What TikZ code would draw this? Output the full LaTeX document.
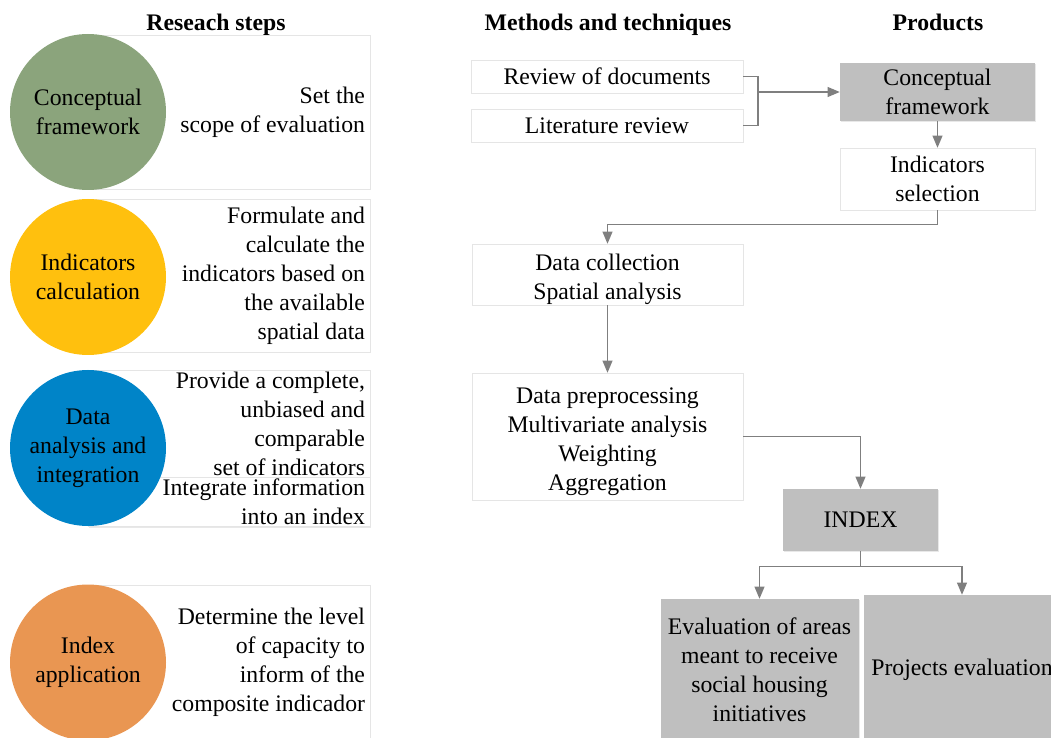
\documentclass[tikz,border=0pt]{standalone}
\usepackage{fontspec}
\setmainfont{Liberation Serif}
\usetikzlibrary{arrows,shadows}
\definecolor{stepgreen}{RGB}{139,164,124}
\definecolor{stepyellow}{RGB}{255,192,14}
\definecolor{stepblue}{RGB}{0,132,200}
\definecolor{steporange}{RGB}{233,150,82}
\definecolor{prodgray}{RGB}{191,191,191}
\definecolor{linkgray}{RGB}{127,127,127}
\newcommand\toppad[1]{\rule{0pt}{\dimexpr12.5pt+#1\relax}}

\begin{document}
\begin{tikzpicture}[x=0.75pt,y=-0.75pt,
  every node/.style={font=\fontsize{17.8}{21.75}\selectfont},
  softshadow/.style={drop shadow={shadow xshift=1pt,shadow yshift=-1pt,opacity=.18,fill=gray}},
  head/.style={font=\fontsize{17.8}{21.75}\selectfont\bfseries,anchor=base},
  stepcirc/.style={circle,minimum size=117pt,inner sep=0pt,align=center},
  stepbox/.style={draw=gray!20,fill=white,softshadow,text width=204pt,inner xsep=3.75pt,inner ysep=0pt,align=flush right},
  methbox/.style={draw=gray!20,fill=white,softshadow,inner sep=0pt,align=center},
  prodbox/.style={fill=prodgray,softshadow,inner sep=0pt,align=center},
  link/.style={draw=linkgray,line width=1.1pt},
  linkarr/.style={link,-triangle 45}]
\useasboundingbox (0,0) rectangle (1051,738);

% headers
\node[head] (h1) at (216,30.5) {Reseach steps};
\node[head] (h2) at (608,30.5) {Methods and techniques};
\node[head] (h3) at (938,30.5) {Products};

% research steps
\node[stepbox,minimum height=115.5pt] (s1) at (229,112) {Set the\\scope of evaluation};
\node[stepbox,minimum height=114.75pt] (s2) at (229,275.5) {Formulate and\\calculate the\\indicators based on\\the available\\spatial data};
\node[stepbox,minimum height=80.25pt] (s3) at (229,423.5) {Provide a complete,\\unbiased and\\comparable\\set of indicators};
\node[stepbox,minimum height=36.75pt] (s4) at (229,502) {Integrate information\\into an index};
\node[stepbox,minimum height=116.25pt] (s5) at (229,662.5) {Determine the level\\of capacity to\\inform of the\\composite indicador};

\node[stepcirc,fill=stepgreen] (c1) at (88,112) {Conceptual\\framework};
\node[stepcirc,fill=stepyellow] (c2) at (88,277) {Indicators\\calculation};
\node[stepcirc,fill=stepblue] (c3) at (88,448) {Data\\analysis and\\integration};
\node[stepcirc,fill=steporange] (c4) at (88,662.5) {Index\\application};

% methods
\node[methbox,minimum width=204pt,minimum height=24.75pt] (rev) at (607,76.5) {Review of documents};
\node[methbox,minimum width=204pt,minimum height=24.75pt] (lit) at (607,125.5) {Literature review};
\node[methbox,minimum width=203.25pt,minimum height=45.75pt] (coll) at (607.5,274.5) {\toppad{6.75pt}Data collection\\Spatial analysis};
\node[methbox,minimum width=203.25pt,minimum height=95.25pt] (prep) at (607.5,436.5) {\toppad{7.5pt}Data preprocessing\\Multivariate analysis\\Weighting\\Aggregation};

% products
\node[prodbox,minimum width=146.25pt,minimum height=43.5pt] (cf) at (937.5,92) {Conceptual\\framework};
\node[methbox,minimum width=146.25pt,minimum height=46.5pt] (sel) at (937.5,179) {Indicators\\selection};
\node[prodbox,minimum width=116.25pt,minimum height=46.5pt] (index) at (860.5,520) {INDEX};
\node[prodbox,minimum width=148.5pt,minimum height=105.75pt] (eval) at (759.5,669.5) {Evaluation of areas\\meant to receive\\social housing\\initiatives};
\node[prodbox,minimum width=147pt,minimum height=112.5pt] (proj) at (962,670) {Projects evaluation};

% links
\coordinate (jn) at (758,92);
\draw[link] (rev.east) -| (jn) |- (lit.east);
\draw[linkarr] (jn) -- (cf.west);
\draw[linkarr] (cf.south) -- (sel.north);
\draw[linkarr] (sel.south) -- ++(0,14) -| (coll.north);
\draw[linkarr] (coll.south) -- (prep.north);
\draw[linkarr] (prep.east) -| (index.north);
\coordinate (split) at ([yshift=-11.25pt]index.south);
\draw[link] (index.south) -- (split);
\draw[linkarr] (split) -| (eval.north);
\draw[linkarr] (split) -| (proj.north);
\end{tikzpicture}
\end{document}
